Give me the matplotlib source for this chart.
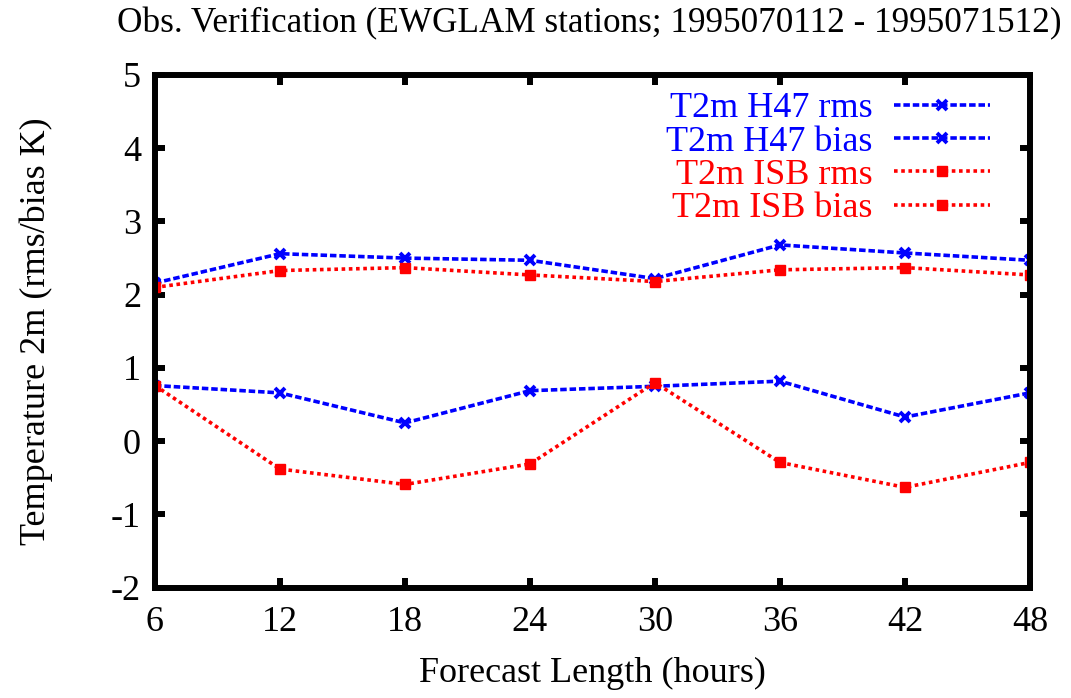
import numpy as np
import matplotlib
matplotlib.use("Agg")
import matplotlib.pyplot as plt

# forecast lengths (hours)
hours = [6, 12, 18, 24, 30, 36, 42, 48]

h47_rms = [2.16, 2.56, 2.50, 2.47, 2.22, 2.68, 2.57, 2.47]
h47_bias = [0.76, 0.66, 0.25, 0.69, 0.75, 0.82, 0.33, 0.66]
isb_rms = [2.10, 2.33, 2.37, 2.27, 2.18, 2.34, 2.37, 2.27]
isb_bias = [0.76, -0.38, -0.59, -0.31, 0.80, -0.29, -0.63, -0.29]

plt.rcParams['font.family'] = ['Liberation Serif', 'DejaVu Serif']
plt.rcParams['axes.unicode_minus'] = False
fs = 26

fig = plt.figure(figsize=(10.71, 6.98), dpi=100)
ax = fig.add_axes([0.1447, 0.158, 0.8170, 0.7346])

dash = (0, (1.8, 0.8))
dot = (0, (1, 1))
ax.plot(hours, h47_rms, color='blue', ls=dash, lw=2.6, marker='x',
        ms=7.5, mew=2.8, label='T2m H47 rms')
ax.plot(hours, h47_bias, color='blue', ls=dash, lw=2.6, marker='x',
        ms=7.5, mew=2.8, label='T2m H47 bias')
ax.plot(hours, isb_rms, color='red', ls=dot, lw=2.6, marker='s',
        ms=7.5, label='T2m ISB rms')
ax.plot(hours, isb_bias, color='red', ls=dot, lw=2.6, marker='s',
        ms=7.5, label='T2m ISB bias')

ax.set_xlim(6, 48)
ax.set_ylim(-2, 5)
ax.set_xticks(hours)
ax.set_yticks(range(-2, 6))
ax.tick_params(direction='in', length=7, width=4.3, labelsize=fs,
               top=True, right=True)
ax.tick_params(axis='x', pad=13)
ax.tick_params(axis='y', pad=10)
for s in ax.spines.values():
    s.set_linewidth(4.3)

ax.set_xlabel('Forecast Length (hours)', fontsize=fs, labelpad=13)
ax.set_ylabel('Temperature 2m (rms/bias K)', fontsize=fs, labelpad=42)
fig.text(0.550, 0.966, 'Obs. Verification (EWGLAM stations; 1995070112 - 1995071512)',
         fontsize=25.3, ha='center', va='center')

ax.legend(loc='upper right', bbox_to_anchor=(0.983, 1.016), frameon=False,
          markerfirst=False, labelcolor='linecolor', fontsize=fs,
          handlelength=2.65, handletextpad=0.6, labelspacing=0.0,
          borderpad=0.2)

fig.savefig('out.png', dpi=100)
